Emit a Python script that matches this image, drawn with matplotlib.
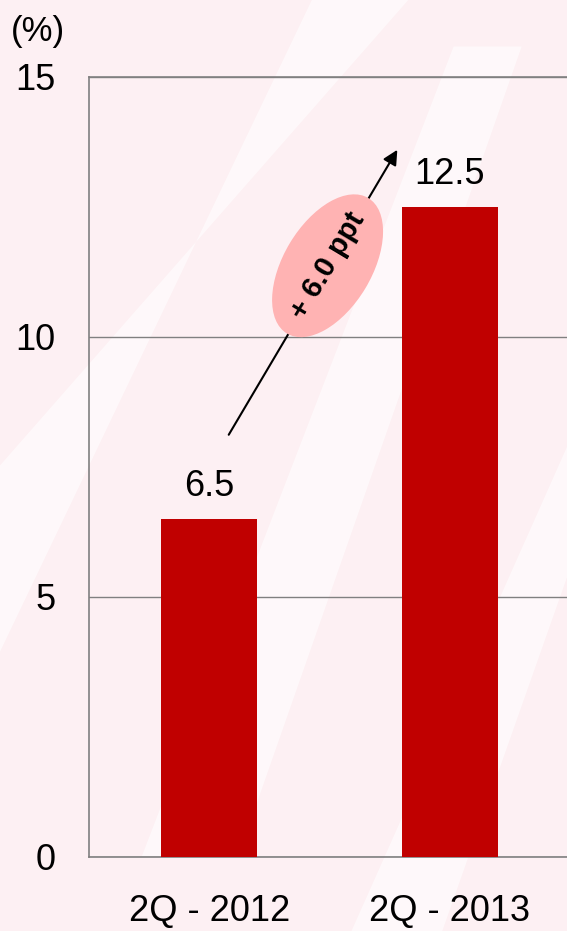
import matplotlib
matplotlib.use("Agg")
import matplotlib.pyplot as plt
from matplotlib.patches import Ellipse, Polygon
from matplotlib.transforms import ScaledTranslation

# data
categories = ["2Q - 2012", "2Q - 2013"]
values = [6.5, 12.5]
value_labels = ["6.5", "12.5"]
y_ticks = [0, 5, 10, 15]
change_label = "+ 6.0 ppt"

plt.rcParams["font.family"] = ["Liberation Sans", "DejaVu Sans"]

bg = "#fdf0f3"
bar_color = "#c00000"
line_color = "#808080"

fig = plt.figure(figsize=(5.67, 9.31), dpi=100, facecolor=bg)

# faint watermark stripes in the background (behind the axes)
for pts in [
    [(0.0, 0.30), (0.0, 0.50), (0.72, 1.0), (0.55, 1.0)],
    [(0.25, 0.08), (0.42, 0.08), (0.92, 0.95), (0.80, 0.95)],
    [(0.62, 0.0), (0.78, 0.0), (1.0, 0.38), (1.0, 0.52)],
]:
    fig.patches.append(Polygon(pts, closed=True, transform=fig.transFigure,
                               facecolor="white", edgecolor="none", alpha=0.6, zorder=-1))

ax = fig.add_axes([89 / 567, 1 - 857 / 931, 1 - 89 / 567, (857 - 77) / 931])
ax.set_facecolor("none")
ax.set_zorder(1)

x = list(range(len(categories)))
ax.bar(x, values, width=0.4, color=bar_color, zorder=3)

ax.set_xlim(-0.5, 1.4875)
ax.set_ylim(0, 15)
ax.set_yticks(y_ticks)
ax.set_xticks(x)
ax.set_xticklabels(categories)
ax.tick_params(axis="both", length=0, labelsize=26)
ax.tick_params(axis="y", pad=24)
ax.tick_params(axis="x", pad=27)
ax.yaxis.grid(True, color=line_color, lw=1)
ax.set_axisbelow(True)

for side in ["left", "bottom", "top"]:
    ax.spines[side].set_color(line_color)
    ax.spines[side].set_linewidth(1.2)
ax.spines["right"].set_visible(False)

for xi, v, lab in zip(x, values, value_labels):
    ax.annotate(lab, (xi, v), xytext=(0, 11), textcoords="offset points",
                ha="center", va="bottom", fontsize=26)

# change arrow with ellipse label
ax.annotate("", xy=(0.782, 13.6), xytext=(0.081, 8.12),
            arrowprops=dict(arrowstyle="-|>", color="black", lw=1.5,
                            mutation_scale=22, shrinkA=0, shrinkB=0),
            zorder=4)

cx, cy = 0.492, 11.37
ell = Ellipse((0, 0), width=1.58, height=0.88, angle=59,
              transform=fig.dpi_scale_trans + ScaledTranslation(cx, cy, ax.transData),
              facecolor="#ffb3b3", edgecolor="none", zorder=5)
ax.add_patch(ell)
ax.text(cx, cy, change_label, rotation=59, rotation_mode="anchor",
        ha="center", va="center", fontsize=21, fontweight="bold", zorder=6)

fig.text(38 / 567, 1 - 32 / 931, "(%)", ha="center", va="center", fontsize=25)

fig.savefig("out.png", dpi=100, facecolor=bg)
